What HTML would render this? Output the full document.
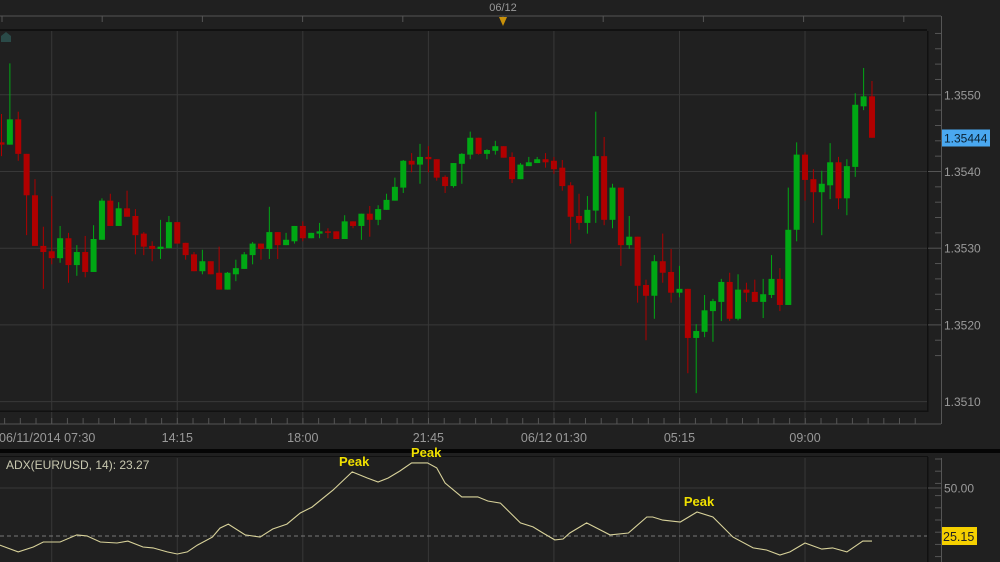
<!DOCTYPE html>
<html><head><meta charset="utf-8"><style>
html,body{margin:0;padding:0;background:#202020;}
svg{display:block;font-family:"Liberation Sans",sans-serif;}
</style></head><body>
<svg id="c" width="1000" height="562"></svg>
<script>
const categories=[];for(let k=0;k<105;k++)categories.push(k);
const opens=[43.8,43.5,46.8,42.3,36.9,30.3,29.6,28.7,31.3,27.8,29.5,26.9,31.1,36.2,32.9,35.2,34.2,31.9,30.3,29.9,30.0,33.4,30.7,29.2,27.0,28.3,26.8,24.6,26.6,27.3,29.1,30.6,29.9,32.1,30.4,30.9,32.9,31.3,31.9,32.2,32.2,31.2,33.5,32.9,34.5,33.7,35.0,36.2,37.9,41.4,40.9,41.9,41.6,39.3,38.1,41.0,42.2,44.4,42.3,42.7,43.3,41.9,39.0,40.7,41.1,41.6,41.4,40.5,38.2,34.2,33.3,34.9,42.0,33.7,37.9,30.4,31.5,25.2,23.8,28.3,26.9,24.2,24.7,18.3,19.1,21.8,23.0,25.6,20.8,24.6,24.3,23.0,23.9,26.0,22.6,32.4,42.2,39.0,37.3,38.2,41.2,36.5,40.6,48.5,49.8];
const highs=[47.5,54.1,47.8,42.3,39.0,32.8,36.8,32.9,32.0,30.4,31.6,33.0,36.5,37.1,36.0,37.5,35.1,32.1,30.9,33.7,34.2,33.4,30.7,29.5,29.8,28.3,30.2,26.9,28.5,29.5,30.8,30.6,35.4,32.1,32.0,32.9,33.5,32.0,33.3,32.6,32.2,34.3,33.5,34.5,35.5,35.6,37.1,39.2,41.5,42.4,43.6,43.3,41.6,39.5,41.1,42.4,45.2,44.4,42.9,44.0,43.3,42.5,41.1,41.9,41.9,42.4,41.9,41.5,38.6,37.1,36.8,47.8,44.5,38.4,37.9,34.2,31.5,25.9,29.1,31.9,29.9,27.7,24.7,20.1,23.9,23.4,26.0,26.8,26.6,25.5,25.9,26.0,29.1,27.4,37.9,43.8,42.5,40.3,40.1,43.7,41.9,41.6,50.2,53.5,51.8];
const lows=[42.0,43.5,41.4,31.7,30.3,24.7,27.9,28.1,25.5,26.4,26.2,26.9,31.1,32.9,32.9,34.1,29.2,29.1,28.3,28.6,30.0,30.6,28.5,27.0,26.6,26.6,24.6,24.6,25.7,27.3,27.9,28.5,28.6,28.6,30.4,30.6,30.9,31.3,31.3,31.3,31.2,31.2,32.6,31.1,31.5,33.0,35.0,36.2,37.2,39.9,38.4,39.9,38.8,37.2,37.9,38.4,41.6,42.2,41.6,42.2,41.8,38.5,39.0,40.7,41.1,40.5,39.7,37.5,30.6,32.4,31.9,33.3,33.0,32.6,27.7,29.9,22.9,18.0,20.8,25.5,22.9,23.6,13.7,11.1,18.4,17.8,20.5,20.5,20.6,23.0,23.0,20.9,23.5,21.8,22.6,30.9,36.2,33.3,31.7,36.4,35.1,34.3,39.3,48.0,44.4];
const closes=[43.5,46.8,42.3,36.9,30.3,29.5,28.7,31.3,27.8,29.5,26.9,31.2,36.2,32.9,35.2,34.1,31.7,30.2,29.9,30.2,33.4,30.6,29.1,27.0,28.3,26.6,24.6,26.8,27.4,29.2,30.6,29.9,32.1,30.4,31.1,32.9,31.3,32.0,32.2,32.0,31.2,33.5,32.9,34.5,33.7,35.1,36.3,38.0,41.4,40.9,41.9,41.6,39.2,38.1,41.1,42.3,44.4,42.3,42.8,43.3,41.8,39.0,40.9,41.2,41.6,41.2,40.3,38.1,34.1,33.3,35.0,42.0,33.7,37.9,30.4,31.5,25.1,23.8,28.3,26.8,24.2,24.7,18.3,19.2,21.9,23.1,25.6,20.8,24.6,24.2,23.0,24.0,26.0,22.6,32.4,42.2,38.9,37.3,38.4,41.2,36.5,40.7,48.7,49.8,44.4];
const priceTicks=["1.3550","1.3540","1.3530","1.3520","1.3510"];
const timeLabels=["06/11/2014 07:30","14:15","18:00","21:45","06/12 01:30","05:15","09:00"];
const timeLabelIdx=[6,21,36,51,66,81,96];
const adxIdx=[-0.2,2.0,3.8,5.0,7.0,9.0,10.2,11.8,13.8,15.1,16.9,18.1,19.8,21.0,22.2,23.4,25.2,26.1,27.1,29.1,30.9,32.4,34.1,35.7,37.1,39.6,41.9,43.7,45.0,46.2,47.6,49.0,50.9,52.0,53.0,55.0,56.9,58.1,59.6,62.0,63.5,64.7,66.1,67.1,67.9,69.9,72.7,74.9,77.1,77.8,79.0,81.1,83.1,85.0,87.4,89.8,91.4,93.0,94.2,96.0,98.0,99.3,101.0,102.9,104.0];
const adxVals=[20.4,16.8,19.4,22.0,22.0,25.7,25.2,22.0,21.5,22.5,19.4,18.9,16.8,15.7,16.8,20.4,24.6,29.3,31.4,25.7,24.6,28.8,31.4,37.2,40.3,49.2,58.7,55.5,53.4,55.5,59.2,63.4,63.4,60.8,52.9,45.6,45.6,43.5,42.4,32.0,29.9,26.7,23.1,23.6,26.7,32.0,25.7,26.7,35.1,35.1,33.5,32.5,37.7,35.1,24.6,18.9,17.8,15.2,16.8,21.5,18.3,18.9,16.8,22.5,22.5];
const peakIdx=[41.9,50.5,83.1];
const peakLabels=["Peak","Peak","Peak"];

const NS="http://www.w3.org/2000/svg";
const svg=document.getElementById('c');
function el(tag,a,parent){const e=document.createElementNS(NS,tag);for(const k in a)e.setAttribute(k,a[k]);(parent||svg).appendChild(e);return e;}
const xOf=i=>1.5+i*8.37;
const yP=p=>171.5-(p-40)*7.67;
const yA=v=>536-(v-25.15)*1.91;
const gridX=[0,1,2,3,4,5,6].map(k=>xOf(6+15*k));

let t=el('line',{x1:0,y1:16,x2:941,y2:16,stroke:'#555','stroke-width':1});

for(let k=0;k<10;k++){const tk=el('line',{x1:2+k*100.2,y1:16,x2:2+k*100.2,y2:22,stroke:'#555'});}
let dl=el('text',{x:503,y:11,fill:'#999','font-size':11,'text-anchor':'middle'});dl.textContent='06/12';

let tri=el('polygon',{points:'499,17 507,17 503,26',fill:'#c8900a'});

el('rect',{x:0,y:29,width:927,height:2,fill:'#111'});

for(let k=0;k<5;k++){const y=yP(50-k*10);const g=el('line',{x1:0,y1:y,x2:927,y2:y,stroke:'#383838'});}
gridX.forEach(x=>{const g=el('line',{x1:x,y1:31,x2:x,y2:424,stroke:'#383838'});});
let home=el('path',{d:'M1,42 L1,36 L6,32 L11,36 L11,42 Z',fill:'#2a4a48'});


categories.forEach(i=>{
  const o=opens[i],h=highs[i],l=lows[i],c=closes[i];
  const up=c>=o;const col=up?'#00a814':'#b00000';
  const x=xOf(i);
  const w=el('line',{x1:x,y1:yP(h),x2:x,y2:yP(l),stroke:col,'stroke-width':1});
  
  const top=yP(Math.max(o,c)),bot=yP(Math.min(o,c));
  const b=el('rect',{x:x-3,y:top,width:6,height:Math.max(1.5,bot-top),fill:col});
  
});

el('rect',{x:927,y:31,width:1.5,height:381,fill:'#111'});
el('rect',{x:0,y:410.5,width:928,height:1.5,fill:'#111'});

el('line',{x1:941.5,y1:16,x2:941.5,y2:424,stroke:'#555'});
for(let k=0;k<22;k++){const v=58-k*2;const y=yP(v);if(y<31||y>424)continue;const major=(v%10===0);const tk=el('line',{x1:major?928:935,y1:y,x2:941,y2:y,stroke:'#555'});}
priceTicks.forEach((s,k)=>{const y=yP(50-k*10);const tx=el('text',{x:944,y:y+4.5,fill:'#9a9a9a','font-size':12});tx.textContent=s;});
let pr=el('rect',{x:942,y:129.5,width:48,height:17,fill:'#4aa8f0'});
let prt=el('text',{x:944,y:142.5,fill:'#0a2030','font-size':12});prt.textContent='1.35444';

el('line',{x1:0,y1:424,x2:941,y2:424,stroke:'#555'});
for(let k=0;k<60;k++){const x=gridX[0]-15.7*3+k*15.7;if(x<0||x>930)continue;const tk=el('line',{x1:x,y1:418,x2:x,y2:424,stroke:'#555'});}
timeLabels.forEach((s,k)=>{const x=xOf(timeLabelIdx[k]);const tx=el('text',{x:k===0?-1:x,y:442,fill:'#999','font-size':12.5,'text-anchor':k===0?'start':'middle'});tx.textContent=s;});

el('rect',{x:0,y:449,width:1000,height:4,fill:'#050505'});

el('line',{x1:0,y1:488,x2:927,y2:488,stroke:'#383838'});
gridX.forEach(x=>{const g=el('line',{x1:x,y1:458,x2:x,y2:562,stroke:'#383838'});});
let dash=el('line',{x1:0,y1:536,x2:927,y2:536,stroke:'#777','stroke-dasharray':'4,3'});
el('rect',{x:927,y:457,width:1.5,height:105,fill:'#111'});
el('rect',{x:0,y:456,width:928,height:1,fill:'#111'});
el('line',{x1:941.5,y1:458,x2:941.5,y2:562,stroke:'#555'});
for(let k=0;k<9;k++){const y=459+k*12.2;const tk=el('line',{x1:935,y1:y,x2:941,y2:y,stroke:'#555'});}
el('line',{x1:928,y1:488,x2:941,y2:488,stroke:'#555'});
let l50=el('text',{x:944,y:492.5,fill:'#9a9a9a','font-size':12});l50.textContent='50.00';
let at=el('rect',{x:942,y:527,width:35,height:18,fill:'#f5d000'});
let att=el('text',{x:943,y:541,fill:'#222','font-size':12.5});att.textContent='25.15';

let d='';adxIdx.forEach((ix,k)=>{d+=(k?'L':'M')+xOf(ix).toFixed(1)+','+yA(adxVals[k]).toFixed(1);});
let ln=el('path',{d:d,fill:'none',stroke:'#d8d29a','stroke-width':1.1});

peakIdx.forEach((ix,k)=>{
  let best=0;adxIdx.forEach((a,j)=>{if(Math.abs(a-ix)<Math.abs(adxIdx[best]-ix))best=j;});
  const tx=el('text',{x:xOf(ix)+2,y:yA(adxVals[best])-6,fill:'#f0e000','font-size':13,'font-weight':'bold','text-anchor':'middle'});
  tx.textContent=peakLabels[k];
  
  
});
let lg=el('text',{x:6,y:469,fill:'#c8c8b0','font-size':12});lg.textContent='ADX(EUR/USD, 14): 23.27';

</script>
</body></html>
